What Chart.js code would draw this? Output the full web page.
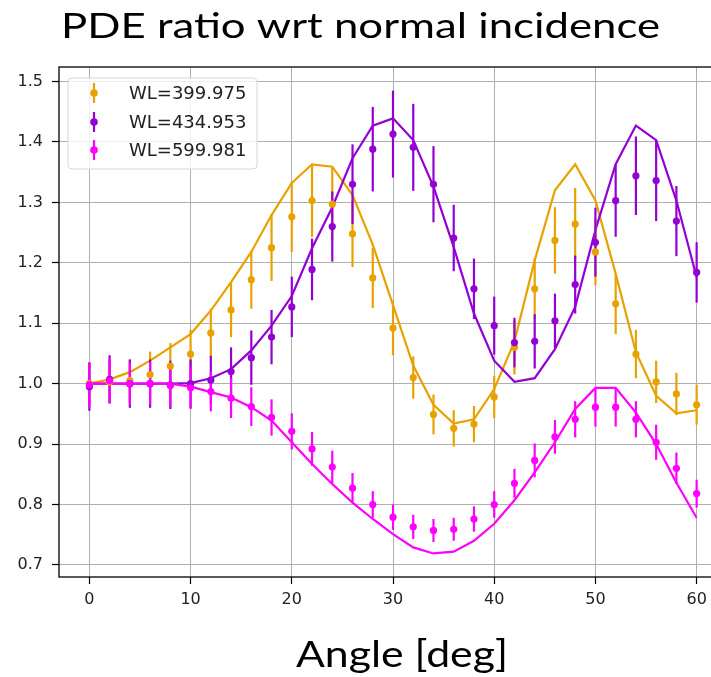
<!DOCTYPE html>
<html>
<head>
<meta charset="utf-8">
<script src="https://cdn.jsdelivr.net/npm/chart.js@4.4.1/dist/chart.umd.min.js"></script>
<style>
html,body{margin:0;padding:0;background:#fff;overflow:hidden;}
#wrap{position:relative;width:711px;height:677px;overflow:hidden;background:#fff;}
#c{position:absolute;left:0;top:0;}
</style>
</head>
<body>
<div id="wrap"><canvas id="c" width="740" height="677" style="width:740px;height:677px"></canvas></div>
<script>
// ---------------- data ----------------
const titleText = 'PDE ratio wrt normal incidence';
const xLabelText = 'Angle [deg]';
const angles = [0,2,4,6,8,10,12,14,16,18,20,22,24,26,28,30,32,34,36,38,40,42,44,46,48,50,52,54,56,58,60];

const labels = ['WL=399.975', 'WL=434.953', 'WL=599.981'];

// measured points (markers)
const meas400 = [1.000,1.003,1.005,1.015,1.029,1.049,1.084,1.122,1.172,1.225,1.276,1.303,1.297,1.248,1.175,1.092,1.010,0.949,0.926,0.933,0.978,1.060,1.157,1.237,1.264,1.218,1.132,1.049,1.003,0.983,0.965];
const meas435 = [0.995,1.007,1.000,1.000,0.998,1.000,1.006,1.020,1.043,1.077,1.127,1.189,1.260,1.330,1.388,1.413,1.391,1.330,1.241,1.157,1.096,1.068,1.070,1.104,1.164,1.234,1.303,1.344,1.336,1.269,1.184];
const meas600 = [0.998,1.005,1.000,1.000,0.997,0.993,0.987,0.976,0.962,0.944,0.921,0.892,0.862,0.827,0.800,0.779,0.763,0.757,0.759,0.776,0.800,0.835,0.873,0.912,0.941,0.961,0.961,0.941,0.903,0.860,0.818];

// error bar half-heights
const err400 = [0.035,0.035,0.035,0.038,0.038,0.040,0.040,0.045,0.048,0.055,0.058,0.060,0.060,0.055,0.050,0.045,0.035,0.033,0.030,0.030,0.035,0.045,0.050,0.055,0.060,0.055,0.050,0.040,0.035,0.035,0.033];
const err435 = [0.040,0.040,0.040,0.040,0.040,0.040,0.040,0.040,0.045,0.045,0.050,0.051,0.058,0.066,0.070,0.072,0.072,0.063,0.055,0.050,0.048,0.041,0.045,0.045,0.048,0.057,0.060,0.065,0.067,0.058,0.050];
const err600 = [0.037,0.037,0.035,0.035,0.035,0.035,0.033,0.033,0.032,0.030,0.030,0.028,0.027,0.025,0.022,0.021,0.020,0.019,0.019,0.021,0.022,0.024,0.028,0.028,0.030,0.032,0.032,0.030,0.029,0.026,0.023];

// model curves (lines)
const model400 = [1.000,1.007,1.019,1.038,1.060,1.082,1.121,1.168,1.218,1.279,1.332,1.363,1.359,1.312,1.230,1.130,1.030,0.965,0.934,0.941,0.991,1.070,1.204,1.320,1.363,1.303,1.182,1.052,0.980,0.951,0.956];
const model435 = [1.000,1.000,1.000,1.000,1.000,1.001,1.009,1.024,1.055,1.096,1.145,1.224,1.292,1.373,1.427,1.439,1.403,1.326,1.226,1.116,1.038,1.003,1.009,1.057,1.127,1.254,1.363,1.427,1.403,1.303,1.176];
const model600 = [1.000,1.000,1.000,1.000,1.000,0.995,0.986,0.977,0.961,0.939,0.903,0.867,0.834,0.803,0.776,0.751,0.729,0.719,0.722,0.740,0.768,0.807,0.853,0.903,0.958,0.993,0.993,0.952,0.900,0.836,0.778];

const xTicks = [0,10,20,30,40,50,60];
const yTicks = [0.7,0.8,0.9,1.0,1.1,1.2,1.3,1.4,1.5];

// ---------------- styling ----------------
const colors = ['#e8a200', '#9400d3', '#ff00ff'];
const measSets = [meas400, meas435, meas600];
const errSets = [err400, err435, err600];
const modelSets = [model400, model435, model600];
const tickFont = {family: 'DejaVu Sans', size: 16};

const toXY = (arr) => angles.map((a, i) => ({x: a, y: arr[i]}));

const datasets = [];
modelSets.forEach((m, k) => {
  datasets.push({
    label: 'model ' + labels[k], data: toXY(m), showLine: true, pointRadius: 0,
    borderColor: colors[k], borderWidth: 2.2, backgroundColor: colors[k],
    order: 20 - k, isModel: true
  });
});
measSets.forEach((m, k) => {
  datasets.push({
    label: labels[k], data: toXY(m), showLine: false, pointRadius: 3.6,
    pointBorderWidth: 0, backgroundColor: colors[k], borderColor: colors[k],
    order: 10 - k, errors: errSets[k], isMeas: true, firstMeas: k === 0
  });
});

const errorBarPlugin = {
  id: 'errbars',
  beforeDatasetDraw(chart, args) {
    const ds = chart.data.datasets[args.index];
    if (!ds.firstMeas) return;
    const ctx = chart.ctx, xs = chart.scales.x, ys = chart.scales.y, ca = chart.chartArea;
    ctx.save();
    ctx.beginPath();
    ctx.rect(ca.left, ca.top, ca.right - ca.left, ca.bottom - ca.top);
    ctx.clip();
    chart.data.datasets.forEach(d => {
      if (!d.isMeas) return;
      ctx.strokeStyle = d.backgroundColor;
      ctx.lineWidth = 2.2;
      d.data.forEach((p, i) => {
        const px = xs.getPixelForValue(p.x);
        ctx.beginPath();
        ctx.moveTo(px, ys.getPixelForValue(p.y - d.errors[i]));
        ctx.lineTo(px, ys.getPixelForValue(p.y + d.errors[i]));
        ctx.stroke();
      });
    });
    ctx.restore();
  }
};

function fitText(ctx, text, cx, baseline, size, family, targetW) {
  ctx.save();
  ctx.font = size + 'px ' + family;
  const w = ctx.measureText(text).width;
  const s = targetW / w;
  ctx.translate(cx, baseline);
  ctx.scale(s, 1);
  ctx.textAlign = 'center';
  ctx.textBaseline = 'alphabetic';
  ctx.fillStyle = '#000';
  ctx.fillText(text, 0, 0);
  ctx.restore();
}

const framePlugin = {
  id: 'frame',
  afterDatasetsDraw(chart) {
    const ctx = chart.ctx, ca = chart.chartArea;
    ctx.save();
    ctx.strokeStyle = '#000';
    ctx.lineWidth = 1.3;
    ctx.strokeRect(ca.left, ca.top, ca.right - ca.left, ca.bottom - ca.top);
    ctx.restore();
  },
  afterDraw(chart) {
    const ctx = chart.ctx;
    // legend (matplotlib style, upper left inside axes)
    ctx.save();
    const bx = 68, by = 78, bw = 189, bh = 91, r = 4;
    ctx.beginPath();
    ctx.moveTo(bx + r, by);
    ctx.arcTo(bx + bw, by, bx + bw, by + bh, r);
    ctx.arcTo(bx + bw, by + bh, bx, by + bh, r);
    ctx.arcTo(bx, by + bh, bx, by, r);
    ctx.arcTo(bx, by, bx + bw, by, r);
    ctx.closePath();
    ctx.fillStyle = 'rgba(255,255,255,0.8)';
    ctx.fill();
    ctx.strokeStyle = '#d6d6d6';
    ctx.lineWidth = 1;
    ctx.stroke();
    const rows = [93, 122, 150];
    chart.data.datasets.filter(d => d.isMeas).forEach((d, k) => {
      const y = rows[k], x = 94;
      ctx.strokeStyle = d.backgroundColor;
      ctx.lineWidth = 2.2;
      ctx.beginPath();
      ctx.moveTo(x, y - 10);
      ctx.lineTo(x, y + 10);
      ctx.stroke();
      ctx.fillStyle = d.backgroundColor;
      ctx.beginPath();
      ctx.arc(x, y, 3.8, 0, Math.PI * 2);
      ctx.fill();
      ctx.fillStyle = '#222';
      ctx.font = '18px "DejaVu Sans"';
      ctx.textAlign = 'left';
      ctx.textBaseline = 'middle';
      ctx.fillText(d.label, 129, y + 1);
    });
    ctx.restore();
    // title and x label
    fitText(ctx, titleText, 360.5, 37.5, 35, 'Lato, "Open Sans", sans-serif', 599);
    fitText(ctx, xLabelText, 402, 667, 36, 'Lato, "Open Sans", sans-serif', 212);
  }
};

new Chart(document.getElementById('c'), {
  type: 'scatter',
  data: { datasets },
  options: {
    responsive: false,
    animation: false,
    devicePixelRatio: 1,
    layout: { padding: { top: 67, left: 0, right: 13, bottom: 60 } },
    plugins: { legend: { display: false }, tooltip: { enabled: false }, title: { display: false } },
    scales: {
      x: {
        type: 'linear', min: -3, max: 63,
        afterBuildTicks: (s) => { s.ticks = xTicks.map(v => ({value: v})); },
        afterFit: (s) => { s.height = 40; },
        grid: { color: '#b0b0b0', lineWidth: 1, tickColor: '#000', tickLength: 7, tickWidth: 1.2 },
        border: { display: false },
        ticks: { font: tickFont, color: '#222', padding: 6, maxRotation: 0, callback: (v) => String(v) }
      },
      y: {
        type: 'linear', min: 0.68, max: 1.524,
        afterBuildTicks: (s) => { s.ticks = yTicks.map(v => ({value: v})); },
        afterFit: (s) => { s.width = 59; },
        grid: { color: '#b0b0b0', lineWidth: 1, tickColor: '#000', tickLength: 7, tickWidth: 1.2 },
        border: { display: false },
        ticks: { font: tickFont, color: '#222', padding: 9, callback: (v) => v.toFixed(1) }
      }
    }
  },
  plugins: [errorBarPlugin, framePlugin]
});
</script>
</body>
</html>
